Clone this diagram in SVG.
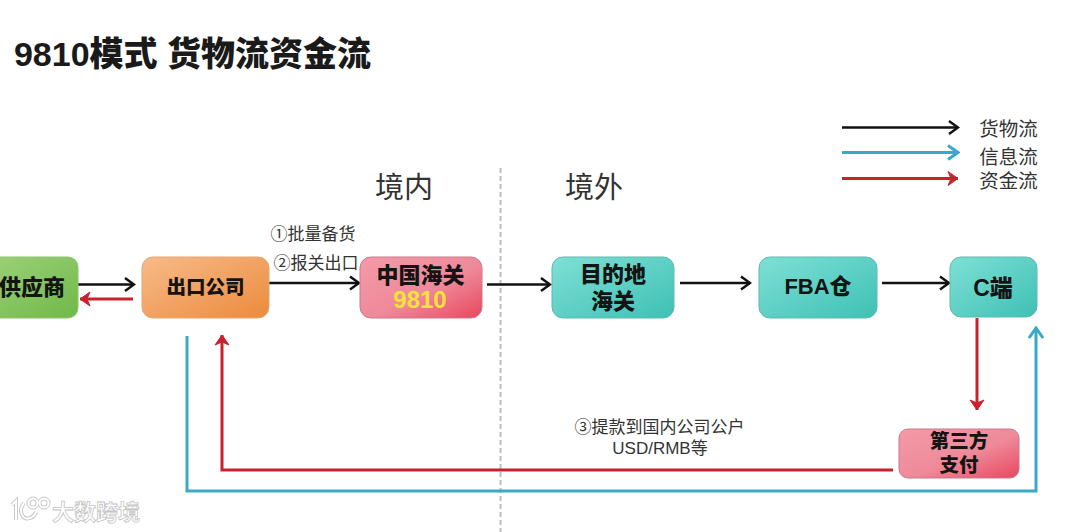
<svg xmlns="http://www.w3.org/2000/svg" width="1080" height="532" viewBox="0 0 1080 532">
<style>
text{font-family:"Liberation Sans","Noto Sans CJK SC",sans-serif;text-anchor:middle}
.n{font-weight:900;font-size:22px;fill:#141414}
.s{font-size:17px;fill:#333}
.h{font-size:29px;fill:#333}
.l{font-size:19.500px;fill:#333}
.c{fill:none;stroke-width:2.500}
.k{stroke:#111}
.r{stroke:#c8222c;stroke-width:3}
.b{stroke:#3aa9c8;stroke-width:3}
.box{stroke-width:1}
.wm{fill:none;stroke:#c9c9c9;stroke-width:4}
.wi{fill:none;stroke:#fff;stroke-width:2}
</style>
<defs>
<linearGradient id="g" x1="0" y1="0" x2="1" y2="1"><stop offset="0" stop-color="#9ed27a"/><stop offset="1" stop-color="#6fb94a"/></linearGradient>
<linearGradient id="o" x1="0" y1="0" x2="1" y2="1"><stop offset="0" stop-color="#f7bb8a"/><stop offset="1" stop-color="#ec8a3c"/></linearGradient>
<linearGradient id="p" x1="0" y1="0" x2="1" y2="1"><stop offset="0" stop-color="#f59aa8"/><stop offset=".55" stop-color="#ee8a9a"/><stop offset="1" stop-color="#e9475f"/></linearGradient>
<linearGradient id="t" x1="0" y1="0" x2="1" y2="1"><stop offset="0" stop-color="#7fe0d6"/><stop offset="1" stop-color="#3fc0b4"/></linearGradient>
<marker id="mk" markerUnits="userSpaceOnUse" markerWidth="14" markerHeight="16" refX="12" refY="8" orient="auto"><path d="M3 1.500L12 8L3 14.500" fill="none" stroke="#111" stroke-width="2.500"/></marker>
<marker id="mr" markerUnits="userSpaceOnUse" markerWidth="14" markerHeight="18" refX="12" refY="9" orient="auto"><path d="M2 2L12 9L2 16L5 9Z" fill="#c8222c" stroke="#c8222c"/></marker>
<marker id="mb" markerUnits="userSpaceOnUse" markerWidth="14" markerHeight="18" refX="12" refY="9" orient="auto"><path d="M2 2L12 9L2 16" fill="none" stroke="#3aa9c8" stroke-width="3"/></marker>
</defs>
<rect width="1080" height="532" fill="#fff"/>
<text x="192.500" y="66" style="font-size:34px;font-weight:900;fill:#1a1a1a">9810模式 货物流资金流</text>
<line x1="500.500" y1="168" x2="500.500" y2="532" stroke="#bdbdbd" stroke-width="2" stroke-dasharray="5 3"/>
<text class="h" x="404" y="198">境内</text>
<text class="h" x="594" y="198">境外</text>
<g id="connectors">
<path class="c k" marker-end="url(#mk)" d="M842 127.500H958"/>
<path class="c b" marker-end="url(#mb)" d="M842 152.500H958"/>
<path class="c r" marker-end="url(#mr)" d="M842 178.500H958"/>
<path class="c k" marker-end="url(#mk)" d="M78 284.500H134"/>
<path class="c r" marker-end="url(#mr)" d="M133 299H80"/>
<path class="c k" marker-end="url(#mk)" d="M269 283H359"/>
<path class="c k" marker-end="url(#mk)" d="M487 284.500H550"/>
<path class="c k" marker-end="url(#mk)" d="M680 283H750"/>
<path class="c k" marker-end="url(#mk)" d="M882 283H949"/>
<path class="c r" marker-end="url(#mr)" d="M977 318V410"/>
<path class="c r" marker-end="url(#mr)" d="M893 470H222V335"/>
<path class="c b" marker-end="url(#mb)" d="M187 336V491H1036V328"/>
</g>
<g id="supplier"><rect class="box" x="-20" y="257" width="98" height="61" rx="10" fill="url(#g)" stroke="#8cc46c"/><text class="n" x="32" y="295">供应商</text></g>
<g id="exporter"><rect class="box" x="142" y="257" width="127" height="61" rx="11" fill="url(#o)" stroke="#e5a672"/><text class="n" x="205.500" y="294" style="font-size:19.500px">出口公司</text></g>
<g id="customs"><rect class="box" x="360" y="257" width="122" height="61" rx="11" fill="url(#p)" stroke="#c9798a"/><text class="n" x="420.500" y="283">中国海关</text><text class="n" x="420" y="308" style="fill:#f5e23a;font-size:24px;font-weight:700">9810</text></g>
<g id="dest"><rect class="box" x="552" y="257" width="122" height="61" rx="11" fill="url(#t)" stroke="#5fb9ae"/><text class="n" x="613" y="282">目的地</text><text class="n" x="613" y="309">海关</text></g>
<g id="fba"><rect class="box" x="759" y="257" width="118" height="61" rx="11" fill="url(#t)" stroke="#5fb9ae"/><text class="n" x="818" y="294">FBA仓</text></g>
<g id="c"><rect class="box" x="950" y="257" width="87" height="60" rx="11" fill="url(#t)" stroke="#5fb9ae"/><text class="n" x="993" y="296" style="font-size:23px">C端</text></g>
<g id="pay"><rect class="box" x="899" y="429" width="120" height="49" rx="9" fill="url(#p)" stroke="#c9798a"/><text class="n" x="959" y="448" style="font-size:19.500px">第三方</text><text class="n" x="959" y="472" style="font-size:19.500px">支付</text></g>
<text class="s" x="313" y="240">①批量备货</text>
<text class="s" x="316" y="269">②报关出口</text>
<text class="s" x="659.500" y="433">③提款到国内公司公户</text>
<text class="s" x="660" y="454">USD/RMB等</text>
<text class="l" x="1008.500" y="136">货物流</text>
<text class="l" x="1008.500" y="164">信息流</text>
<text class="l" x="1008.500" y="188">资金流</text>
<g id="watermark">
<path class="wm" d="M12 505L16 501V520M24 503C18 510 22 521 30 518C33 517 35 515 36 512"/>
<circle class="wm" cx="33" cy="503" r="4.500"/><circle class="wm" cx="44" cy="503" r="4.500"/>
<path class="wi" d="M12 505L16 501V520M24 503C18 510 22 521 30 518C33 517 35 515 36 512"/>
<circle class="wi" cx="33" cy="503" r="4.500"/><circle class="wi" cx="44" cy="503" r="4.500"/>
<text x="96" y="520" style="font-size:22px;font-weight:700;fill:#fff;stroke:#c4c4c4;stroke-width:.8">大数跨境</text>
</g>
</svg>
